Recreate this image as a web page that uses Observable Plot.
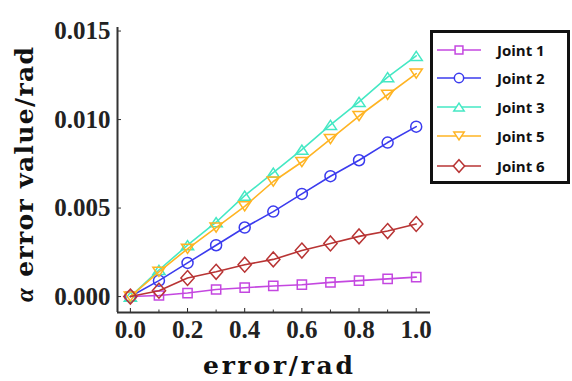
<!DOCTYPE html>
<html><head><meta charset="utf-8">
<script src="https://cdn.jsdelivr.net/npm/d3@7"></script>
<script src="https://cdn.jsdelivr.net/npm/@observablehq/plot@0.6"></script>
<style>
body{margin:0;background:#fff;}
#wrap{position:relative;width:572px;height:381px;}
#legend{position:absolute;left:430px;top:30px;width:134px;height:148px;border:3px solid #111;background:#fff;font-family:"Open Sans",sans-serif;font-weight:bold;font-size:15px;color:#111;}
.row{position:absolute;left:0;height:20px;display:flex;align-items:center;}
.row span{margin-left:16px;}
</style>
</head><body>
<div id="wrap"><div id="chart"></div><div id="legend"></div></div>
<script>
const xs = [0,0.1,0.2,0.3,0.4,0.5,0.6,0.7,0.8,0.9,1.0];
const names = ["Joint 1","Joint 2","Joint 3","Joint 5","Joint 6"];
const joint1 = [0,0.00006,0.0002,0.0004,0.0005,0.0006,0.00067,0.0008,0.0009,0.001,0.0011];
const joint2 = [0,0.0009,0.0019,0.0029,0.0039,0.0048,0.0058,0.0068,0.0077,0.0087,0.0096];
const joint3 = [0,0.0015,0.0029,0.0042,0.0057,0.007,0.0083,0.0097,0.011,0.0124,0.0136];
const joint5 = [0,0.0014,0.0027,0.0039,0.0051,0.0065,0.0076,0.0089,0.0102,0.0114,0.0126];
const joint6 = [0,0.00033,0.00105,0.0014,0.0018,0.0021,0.0026,0.003,0.0034,0.0037,0.0041];
const yTicks = [0,0.005,0.010,0.015];
const xTicks = [0,0.2,0.4,0.6,0.8,1.0];
const xMinor = [0.1,0.3,0.5,0.7,0.9];

const colors = ["#c447e0","#3b3bee","#44e8c4","#ffb423","#b83434"];
const triDown = {draw(ctx, size){const r=Math.sqrt(size/(3*Math.sqrt(3)/4)); const h=r*Math.sqrt(3)/2; ctx.moveTo(-r/2*1.15,-h/2);ctx.lineTo(r/2*1.15,-h/2);ctx.lineTo(0,h/2);ctx.closePath();}};
const triUp = {draw(ctx, size){const r=Math.sqrt(size/(3*Math.sqrt(3)/4)); const h=r*Math.sqrt(3)/2; ctx.moveTo(-r/2*1.15,h/2);ctx.lineTo(r/2*1.15,h/2);ctx.lineTo(0,-h/2);ctx.closePath();}};
const diamond = {draw(ctx,size){const a=Math.sqrt(size)*0.62, b=Math.sqrt(size)*0.55; ctx.moveTo(0,-a);ctx.lineTo(b,0);ctx.lineTo(0,a);ctx.lineTo(-b,0);ctx.closePath();}};
const symbols = ["square","circle",triUp,triDown,diamond];
const rVals = [5.2,5.5,6.8,6.8,6.8];

const series = [joint1,joint2,joint3,joint5,joint6];
const data = [];
series.forEach((s,i)=>s.forEach((v,j)=>data.push({name:names[i],x:xs[j],y:v,i})));

const marks = [];
series.forEach((s,i)=>{
  const d = data.filter(e=>e.i===i);
  marks.push(Plot.line(d,{x:"x",y:"y",stroke:colors[i],strokeWidth:1.6}));
  marks.push(Plot.dot(d,{x:"x",y:"y",stroke:colors[i],fill:"white",fillOpacity:0,symbol:()=>symbols[i],r:rVals[i],strokeWidth:1.5}));
});

const chart = Plot.plot({
  width:572, height:381,
  marginLeft:117, marginRight:142, marginTop:27, marginBottom:69,
  style:{background:"white"},
  x:{domain:[-0.045,1.05]},
  y:{domain:[-0.0009,0.0152]},
  symbol:{type:"identity"},
  marks:[
    ...marks,
    Plot.axisY({ticks:yTicks, tickSize:-4, tickPadding:11, tickFormat:d3.format(".3f"), label:null,
      fontFamily:"Liberation Serif", fontWeight:"bold", fontSize:25, stroke:"#333", color:"#222"}),
    Plot.axisX({ticks:xTicks, tickSize:-4, tickPadding:12, tickFormat:d3.format(".1f"), label:null,
      fontFamily:"Liberation Serif", fontWeight:"bold", fontSize:25, color:"#222"}),
    Plot.axisX({ticks:xMinor, tickSize:-2.5, tickFormat:()=>"", label:null, color:"#333"}),
    Plot.ruleX([-0.045],{stroke:"#333",strokeWidth:2}),
    Plot.ruleY([-0.0009],{stroke:"#333",strokeWidth:2})
  ]
});
document.getElementById("chart").appendChild(chart);

const svg = d3.select(chart);
svg.append("text").attr("x",203).attr("y",374).attr("text-anchor","start").attr("textLength",150).attr("lengthAdjust","spacing")
  .attr("font-family","DejaVu Serif").attr("font-weight","bold").attr("font-size",25).attr("fill","#111")
  .text("error/rad");
const yl = svg.append("text").attr("transform","translate(33,302) rotate(-90)").attr("text-anchor","start").attr("textLength",255).attr("lengthAdjust","spacing")
  .attr("font-family","DejaVu Serif").attr("font-weight","bold").attr("font-size",25).attr("fill","#111");
yl.append("tspan").attr("font-family","Liberation Serif").attr("font-style","italic").text("α");
yl.append("tspan").text(" error value/rad");

const leg = document.getElementById("legend");
const rowY = [17,45,74,103,133];
names.forEach((n,i)=>{
  const row = document.createElement("div");
  row.className="row"; row.style.top=(rowY[i]-10)+"px";
  const s = d3.create("svg").attr("width",48).attr("height",20);
  s.append("line").attr("x1",4).attr("x2",48).attr("y1",10).attr("y2",10).attr("stroke",colors[i]).attr("stroke-width",1.6);
  const sym = typeof symbols[i]==="string" ? (symbols[i]==="square"?d3.symbolSquare:d3.symbolCircle) : symbols[i];
  s.append("path").attr("transform","translate(26,10)").attr("d",d3.symbol(sym, Math.PI*Math.pow(rVals[i]*0.85,2))())
    .attr("fill","white").attr("stroke",colors[i]).attr("stroke-width",1.5);
  row.appendChild(s.node());
  const t=document.createElement("span"); t.textContent=n; row.appendChild(t);
  leg.appendChild(row);
});
</script>
</body></html>
